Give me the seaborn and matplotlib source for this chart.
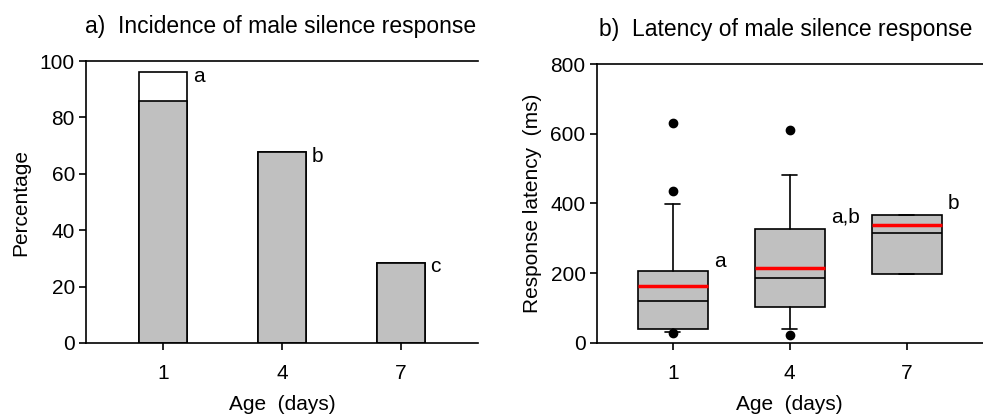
import matplotlib
matplotlib.use("Agg")
import matplotlib.pyplot as plt
import seaborn as sns
import pandas as pd

# ---- data ----
ages = ["1", "4", "7"]
total_pct = [96.2, 67.7, 28.5]        # white (total) bar height
silence_pct = [85.7, 67.7, 28.5]      # grey portion
letters_a = ["a", "b", "c"]

box_q1 = [39, 102, 197]
box_med = [120, 187, 314]
box_q3 = [205, 328, 368]
box_mean = [164, 214, 338]
whisk_lo = [30, 40, 197]
whisk_hi = [399, 482, 368]
outliers = [[630, 435, 28], [612, 23], []]
letters_b = ["a", "a,b", "b"]

sns.set_theme(style="ticks")
plt.rcParams["font.family"] = ["Liberation Sans", "DejaVu Sans"]
plt.rcParams["text.color"] = "black"
plt.rcParams["axes.labelcolor"] = "black"
plt.rcParams["xtick.color"] = "black"
plt.rcParams["ytick.color"] = "black"

TICK = 15
LAB = 15
TIT = 16.5

fig = plt.figure(figsize=(9.83, 4.17), dpi=100)
ax1 = fig.add_axes([0.0875, 0.1775, 0.3988, 0.676])
ax2 = fig.add_axes([0.607, 0.178, 0.3927, 0.668])

grey = "#c0c0c0"
df = pd.DataFrame({"age": ages, "total": total_pct, "silence": silence_pct})
sns.barplot(data=df, x="age", y="total", order=ages, color="white", width=0.4,
            edgecolor="black", linewidth=1.2, saturation=1, ax=ax1)
sns.barplot(data=df, x="age", y="silence", order=ages, color=grey, width=0.4,
            edgecolor="black", linewidth=1.2, saturation=1, ax=ax1)
ax1.set_xlim(-0.65, 2.65)
ax1.set_ylim(0, 100)
ax1.set_yticks([0, 20, 40, 60, 80, 100])
for i, (t, l) in enumerate(zip(total_pct, letters_a)):
    ax1.text(i + 0.25, t - 1.5, l, ha="left", va="center", fontsize=LAB)
ax1.set_xlabel("Age  (days)", fontsize=LAB, labelpad=9)
ax1.set_ylabel("Percentage", fontsize=LAB, labelpad=7)
ax1.set_title("a)  Incidence of male silence response", fontsize=TIT, pad=20, x=0.495)

# ---- box plot ----
stats = []
for i in range(len(ages)):
    stats.append(dict(med=box_med[i], q1=box_q1[i], q3=box_q3[i],
                      whislo=whisk_lo[i], whishi=whisk_hi[i],
                      fliers=outliers[i], mean=box_mean[i], label=ages[i]))
ax2.bxp(stats, positions=range(len(ages)), widths=0.6, patch_artist=True,
        showmeans=True, meanline=True, capwidths=0.13,
        boxprops=dict(facecolor=grey, edgecolor="black", linewidth=1.2),
        medianprops=dict(color="black", linewidth=1.2),
        meanprops=dict(color="red", linestyle="-", linewidth=2.5),
        whiskerprops=dict(color="black", linewidth=1.2),
        capprops=dict(color="black", linewidth=1.2),
        flierprops=dict(marker="o", markerfacecolor="black", markeredgecolor="black",
                        markersize=6))
ax2.set_xlim(-0.65, 2.65)
ax2.set_ylim(0, 800)
ax2.set_yticks([0, 200, 400, 600, 800])
ax2.set_xticks(range(len(ages)))
ax2.set_xticklabels(ages)
label_y = [232, 360, 400]
for i, l in enumerate(letters_b):
    ax2.text(i + 0.35, label_y[i], l, ha="left", va="center", fontsize=LAB)
ax2.set_xlabel("Age  (days)", fontsize=LAB, labelpad=9)
ax2.set_ylabel("Response latency  (ms)", fontsize=LAB, labelpad=6)
ax2.set_title("b)  Latency of male silence response", fontsize=TIT, pad=20, x=0.49)

for ax in (ax1, ax2):
    ax.spines["right"].set_visible(False)
    for s in ("left", "bottom", "top"):
        ax.spines[s].set_linewidth(1.2)
        ax.spines[s].set_color("black")
    ax.tick_params(axis="both", labelsize=TICK, length=5, width=1.2, color="black",
                   direction="out", top=False, right=False)
    ax.tick_params(axis="x", pad=10)
    ax.tick_params(axis="y", pad=3)

fig.savefig("out.png", dpi=100)
